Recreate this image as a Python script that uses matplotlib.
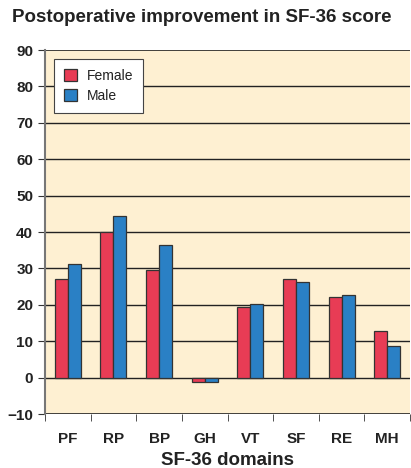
import numpy as np
import matplotlib.pyplot as plt

domains = ["PF", "RP", "BP", "GH", "VT", "SF", "RE", "MH"]
female = [27.2, 39.9, 29.6, -1.3, 19.3, 27.2, 22.1, 12.8]
male = [31.1, 44.4, 36.5, -1.3, 20.3, 26.2, 22.8, 8.8]

plt.rcParams["font.family"] = ["Liberation Sans", "DejaVu Sans"]

fig = plt.figure(figsize=(4.11, 4.68), dpi=100)
ax = fig.add_axes([45 / 411, 1 - 414 / 468, 365 / 411, 364 / 468])
ax.set_facecolor("#FEF0D2")

x = np.arange(len(domains))
w = 0.285
ax.bar(x - w / 2, female, w, color="#E83C55", edgecolor="#333333", linewidth=0.9,
       label="Female", zorder=3)
ax.bar(x + w / 2, male, w, color="#2A80C5", edgecolor="#333333", linewidth=0.9,
       label="Male", zorder=3)

ax.set_xlim(-0.5, len(domains) - 0.5)
ax.set_ylim(-10, 90)
ax.set_yticks(range(-10, 91, 10))
ax.set_xticks(x)
ax.set_xticklabels(domains, fontsize=11, fontweight="bold", color="#222222")
ax.set_xticks(np.arange(-0.5, len(domains), 1), minor=True)
ax.tick_params(axis="x", which="major", length=0, pad=13)
ax.tick_params(axis="x", which="minor", length=5, direction="out", color="#333333")
ax.tick_params(axis="y", length=5, direction="out", color="#333333")
for lbl in ax.get_yticklabels():
    lbl.set_fontweight("bold")
    lbl.set_fontsize(11)
    lbl.set_color("#222222")

for v in range(0, 90, 10):
    ax.axhline(v, color="#222222", linewidth=1, zorder=1)

for s in ["top", "right", "bottom"]:
    ax.spines[s].set_visible(False)
ax.spines["left"].set_color("#777777")
ax.spines["left"].set_linewidth(1.5)
ax.axhline(90, color="#222222", linewidth=1.2, zorder=1)
ax.axhline(-10, color="#222222", linewidth=1.2, zorder=1)

ax.set_xlabel("SF-36 domains", fontsize=13.5, fontweight="bold", color="#222222", labelpad=4)
fig.text(202 / 411, 1 - 17 / 468, "Postoperative improvement in SF-36 score", ha="center",
         va="center", fontsize=13.5, fontweight="bold", color="#222222")

leg = ax.legend(loc="upper left", bbox_to_anchor=(0.025, 0.975), fontsize=10,
                frameon=True, fancybox=False, edgecolor="#444444", framealpha=1,
                handlelength=0.95, handleheight=0.95, borderpad=0.7, labelspacing=0.45,
                handletextpad=0.7, borderaxespad=0)
leg.get_frame().set_linewidth(0.8)
for t in leg.get_texts():
    t.set_color("#222222")

fig.savefig("out.png", dpi=100)
